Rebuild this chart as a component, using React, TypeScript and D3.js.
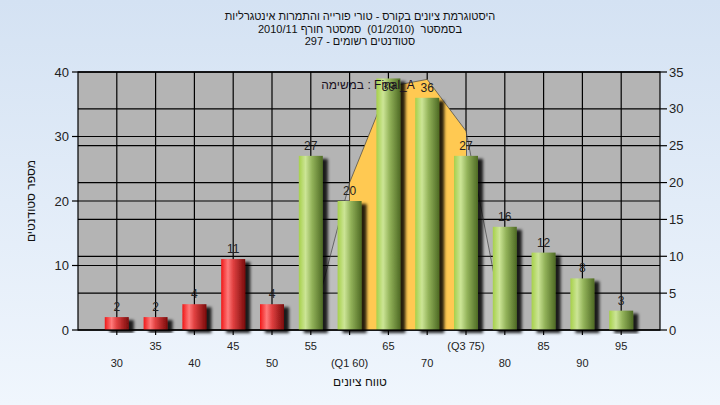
import React from "react";
import * as d3 from "d3";

// histogram bins (grade ranges) and student counts
const categories = ["30", "35", "40", "45", "50", "55", "60", "65", "70", "75", "80", "85", "90", "95"];
const tickLabels = ["30", "35", "40", "45", "50", "55", "(Q1 60)", "65", "70", "(Q3 75)", "80", "85", "90", "95"];
const counts = [2, 2, 4, 11, 4, 27, 20, 39, 36, 27, 16, 12, 8, 3];
const failing = ["30", "35", "40", "45", "50"];

// Final_A curve (right axis)
const curveCats = ["55", "60", "65", "70", "75", "80"];
const curveValues = [0, 20, 33, 34, 27, 0];
const q1 = "60";
const q3 = "75";

const leftTicks = [0, 10, 20, 30, 40];
const rightTicks = [0, 5, 10, 15, 20, 25, 30, 35];

const titleLines = [
  "היסטוגרמת ציונים בקורס - טורי פורייה והתמרות אינטגרליות",
  "בסמסטר  (01/2010)  סמסטר חורף 2010/11",
  "סטודנטים רשומים - 297",
];

const W = 720;
const H = 405;
const M = { left: 78, right: 660, top: 72, bottom: 330 };
const FONT = "'Liberation Sans', 'DejaVu Sans', Arial, sans-serif";
const BAR_W = 24;

export default function App() {
  const x = d3.scalePoint<string>().domain(categories).range([M.left, M.right]).padding(1);
  const yL = d3.scaleLinear().domain([0, 40]).range([M.bottom, M.top]);
  const yR = d3.scaleLinear().domain([0, 35]).range([M.bottom, M.top]);

  const pts = curveCats.map((c, i) => ({ c, v: curveValues[i] }));
  const area = d3
    .area<{ c: string; v: number }>()
    .x((d) => x(d.c)!)
    .y0(M.bottom)
    .y1((d) => yR(d.v));
  const line = d3
    .line<{ c: string; v: number }>()
    .x((d) => x(d.c)!)
    .y((d) => yR(d.v));

  const hLines = [...leftTicks.map((t) => yL(t)), ...rightTicks.map((t) => yR(t))];

  return (
    <svg
      width={W}
      height={H}
      style={{ position: "absolute", left: 0, top: 0, fontFamily: FONT }}
    >
      <defs>
        <linearGradient id="bg" x1="0" y1="0" x2="0" y2="1">
          <stop offset="0%" stopColor="#d4e2f3" />
          <stop offset="100%" stopColor="#f0f6fd" />
        </linearGradient>
        <linearGradient id="red" x1="0" y1="0" x2="1" y2="0">
          <stop offset="0%" stopColor="#f01818" />
          <stop offset="28%" stopColor="#ff7a7a" />
          <stop offset="50%" stopColor="#e04040" />
          <stop offset="100%" stopColor="#7a0c0c" />
        </linearGradient>
        <linearGradient id="green" x1="0" y1="0" x2="1" y2="0">
          <stop offset="0%" stopColor="#a6d04a" />
          <stop offset="28%" stopColor="#cce596" />
          <stop offset="55%" stopColor="#93b35a" />
          <stop offset="100%" stopColor="#4e6a24" />
        </linearGradient>
        <filter id="shadow" x="-30%" y="-10%" width="180%" height="130%">
          <feDropShadow dx="5" dy="3" stdDeviation="1.8" floodColor="#000" floodOpacity="0.85" />
        </filter>
        <clipPath id="iqr">
          <rect x={x(q1)} y={M.top} width={x(q3)! - x(q1)!} height={M.bottom - M.top} />
        </clipPath>
        <clipPath id="plot">
          <rect x={M.left} y={M.top} width={M.right - M.left} height={M.bottom - M.top} />
        </clipPath>
      </defs>

      <rect width={W} height={H} fill="url(#bg)" />

      {/* titles */}
      {titleLines.map((t, i) => (
        <text
          key={i}
          x={W / 2}
          y={20 + i * 12.5}
          textAnchor="middle"
          direction="rtl"
          fontSize={11}
          fill="#111"
          style={{ whiteSpace: "pre" }}
        >
          {t}
        </text>
      ))}

      {/* plot background */}
      <rect x={M.left} y={M.top} width={M.right - M.left} height={M.bottom - M.top} fill="#b4b4b4" />

      {/* grid */}
      <g stroke="#000" strokeWidth={1.2}>
        {hLines.map((yy, i) => (
          <line key={"h" + i} x1={M.left} x2={M.right} y1={yy} y2={yy} />
        ))}
        {categories.map((c) => (
          <line key={"v" + c} x1={x(c)} x2={x(c)} y1={M.top} y2={M.bottom} />
        ))}
      </g>

      {/* Final_A area, yellow between Q1 and Q3 */}
      <g clipPath="url(#plot)">
        <path d={area(pts)!} fill="#ffffff" fillOpacity={0.14} />
        <path d={area(pts)!} fill="#ffc952" clipPath="url(#iqr)" />
        <path d={line(pts)!} fill="none" stroke="#444" strokeWidth={0.9} strokeOpacity={0.8} strokeLinejoin="round" />
      </g>

      {/* bars */}
      <g>
        {categories.map((c, i) => (
          <rect
            key={c}
            x={x(c)! - BAR_W / 2}
            y={yL(counts[i])}
            width={BAR_W}
            height={M.bottom - yL(counts[i])}
            fill={failing.includes(c) ? "url(#red)" : "url(#green)"}
            filter="url(#shadow)"
          />
        ))}
      </g>

      {/* axes */}
      <g stroke="#000" strokeWidth={1.2} fill="none">
        <rect x={M.left} y={M.top} width={M.right - M.left} height={M.bottom - M.top} />
        {leftTicks.map((t) => (
          <line key={"lt" + t} x1={M.left - 6} x2={M.left} y1={yL(t)} y2={yL(t)} />
        ))}
        {rightTicks.map((t) => (
          <line key={"rt" + t} x1={M.right} x2={M.right + 7} y1={yR(t)} y2={yR(t)} />
        ))}
        {categories.map((c) => (
          <line key={"bt" + c} x1={x(c)} x2={x(c)} y1={M.bottom} y2={M.bottom + 5} />
        ))}
      </g>

      <g fontSize={13} fill="#222">
        {leftTicks.map((t) => (
          <text key={"ll" + t} x={M.left - 9} y={yL(t)} dy="0.35em" textAnchor="end">
            {t}
          </text>
        ))}
        {rightTicks.map((t) => (
          <text key={"rl" + t} x={M.right + 9} y={yR(t)} dy="0.35em" textAnchor="start">
            {t}
          </text>
        ))}
      </g>

      <g fontSize={11} fill="#222" textAnchor="middle">
        {categories.map((c, i) => (
          <text key={"xl" + c} x={x(c)} y={i % 2 === 1 ? 350 : 367}>
            {tickLabels[i]}
          </text>
        ))}
      </g>

      {/* value labels (kept inside the plot when the bar reaches the top) */}
      <g fontSize={12} fill="#222" textAnchor="middle">
        {categories.map((c, i) => (
          <text key={"vl" + c} x={x(c)} y={Math.max(yL(counts[i]) - 6, M.top + 19)}>
            {counts[i]}
          </text>
        ))}
      </g>

      {/* legend */}
      <text x={368} y={89} textAnchor="middle" direction="rtl" fontSize={12} fill="#1a1020">
        Final_A : במשימה
      </text>

      {/* axis titles */}
      <text x={W / 2} y={386} textAnchor="middle" direction="rtl" fontSize={12} fill="#111">
        טווח ציונים
      </text>
      <text
        transform={`translate(35,${(M.top + M.bottom) / 2}) rotate(-90)`}
        textAnchor="middle"
        direction="rtl"
        fontSize={12}
        fill="#111"
      >
        מספר סטודנטים
      </text>
    </svg>
  );
}
